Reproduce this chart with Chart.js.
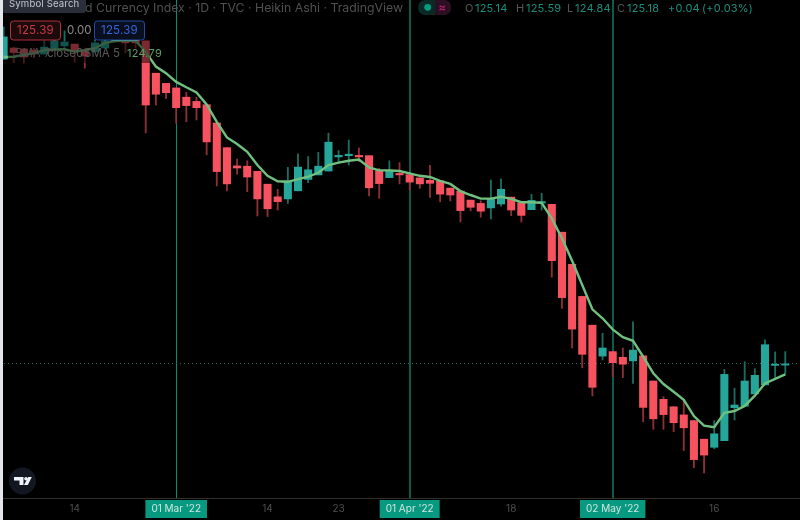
<!DOCTYPE html>
<html lang="en">
<head>
  <meta charset="UTF-8">
  <title>Currency Index Heikin Ashi</title>
  <script src="https://cdn.jsdelivr.net/npm/chart.js"></script>
  <style>
    html, body { margin: 0; padding: 0; background: #000; overflow: hidden; }
    #wrap { position: relative; width: 800px; height: 520px; }
    #strip { position: absolute; left: 0; top: 0; width: 3px; height: 520px; background: #e4e6ec; }
  </style>
</head>
<body>
<div id="wrap">
  <canvas id="chart" width="800" height="520"></canvas>
  <div id="strip"></div>
</div>

<script>
  // Heikin Ashi candles, oldest first
  const opens = [135.34, 135.71, 135.68, 135.64, 135.51, 135.64, 135.78, 135.84, 135.64, 135.58,
    135.71, 135.93, 135.98, 135.98, 135.94, 134.87, 134.53, 134.38, 134.07, 133.93,
    133.82, 133.21, 132.39, 131.78, 131.77, 131.60, 131.17, 130.75, 130.68, 130.95,
    131.33, 131.48, 131.61, 132.08, 132.12, 132.13, 132.12, 131.62, 131.39, 131.53,
    131.49, 131.38, 131.30, 131.28, 131.04, 130.94, 130.64, 130.53, 130.38, 130.51,
    130.74, 130.55, 130.32, 130.54, 130.50, 129.57, 128.50, 127.43, 126.47, 125.44,
    125.59, 125.40, 125.28, 125.45, 124.61, 124.00, 123.75, 123.48, 123.29, 122.67,
    122.40, 122.62, 123.72, 123.77, 124.18, 124.48, 125.13, 125.14];
  const closes = [136.08, 135.56, 135.41, 135.51, 135.74, 135.94, 135.91, 135.58, 135.44, 135.88,
    135.94, 135.98, 135.88, 135.88, 133.81, 134.17, 134.22, 133.72, 133.79, 133.72,
    132.58, 131.59, 131.18, 131.71, 131.41, 130.68, 130.35, 130.59, 131.28, 131.74,
    131.65, 131.77, 132.57, 132.13, 132.17, 132.08, 131.05, 131.19, 131.62, 131.48,
    131.24, 131.18, 131.20, 130.84, 130.81, 130.29, 130.40, 130.27, 130.68, 131.00,
    130.31, 130.13, 130.63, 130.59, 128.62, 127.39, 126.34, 125.50, 124.40, 125.71,
    125.22, 125.17, 125.64, 123.73, 123.35, 123.49, 123.22, 123.05, 121.99, 122.14,
    122.85, 124.83, 123.81, 124.61, 124.80, 125.82, 125.17, 125.18];
  const highs = [136.41, 135.74, 135.68, 135.71, 135.94, 136.04, 136.28, 135.84, 135.71, 135.98,
    136.04, 135.98, 135.98, 135.98, 135.94, 134.87, 134.53, 134.38, 134.23, 134.07,
    133.82, 133.21, 132.39, 132.01, 131.95, 131.60, 131.17, 131.00, 131.73, 132.18,
    132.09, 132.23, 132.87, 132.29, 132.64, 132.38, 132.12, 131.70, 131.95, 131.89,
    131.49, 131.38, 131.80, 131.28, 131.04, 130.94, 130.64, 130.62, 131.31, 131.35,
    130.74, 130.55, 130.83, 130.87, 130.50, 129.57, 128.50, 127.43, 126.47, 126.20,
    125.59, 125.71, 126.58, 125.45, 124.61, 124.09, 123.75, 124.00, 123.29, 122.67,
    123.29, 125.00, 124.37, 125.25, 125.02, 125.98, 125.58, 125.59];
  const lows = [135.34, 135.22, 135.21, 135.38, 135.51, 135.64, 135.64, 135.24, 135.04, 135.58,
    135.71, 135.91, 135.54, 135.71, 132.88, 133.81, 134.02, 133.20, 133.25, 133.31,
    132.15, 131.11, 130.95, 131.50, 130.92, 130.11, 130.09, 130.31, 130.53, 130.95,
    131.22, 131.48, 131.61, 131.92, 131.81, 131.92, 130.78, 130.70, 131.39, 131.18,
    130.98, 131.03, 130.73, 130.58, 130.61, 129.91, 130.28, 130.07, 130.01, 130.44,
    130.12, 129.91, 130.32, 130.31, 128.07, 127.03, 125.71, 125.05, 124.11, 125.31,
    124.75, 124.72, 124.53, 123.25, 123.00, 123.00, 122.92, 122.29, 121.72, 121.55,
    122.35, 122.62, 123.31, 123.77, 124.18, 124.48, 124.73, 124.84];
  const sma = [135.41, 135.42, 135.48, 135.54, 135.64, 135.66, 135.67, 135.59, 135.64, 135.71,
    135.88, 135.94, 135.95, 135.95, 135.58, 135.09, 134.87, 134.58, 134.40, 134.23,
    133.83, 133.25, 132.73, 132.51, 132.25, 131.81, 131.45, 131.27, 131.25, 131.34,
    131.42, 131.55, 131.81, 131.89, 131.95, 131.99, 131.73, 131.63, 131.63, 131.61,
    131.53, 131.45, 131.41, 131.28, 131.18, 130.94, 130.81, 130.69, 130.69, 130.75,
    130.68, 130.57, 130.57, 130.55, 130.03, 129.37, 128.62, 127.81, 127.00, 126.70,
    126.33, 126.07, 125.95, 125.42, 124.87, 124.51, 124.25, 123.98, 123.44, 123.12,
    123.07, 123.55, 123.61, 123.78, 124.12, 124.53, 124.68, 124.83];

  const tickIndices = [7, 17, 26, 33, 40, 50, 60, 70];
  const tickLabels = ['14', "01 Mar '22", '14', '23', "01 Apr '22", '18', "02 May '22", '16'];
  const lastPriceLine = [125.19];

  const UP = '#26a69a', DOWN = '#f7525f';
  const UP_WICK = '#1a6d60', DOWN_WICK = '#8c2f36';
  const isMonth = i => tickLabels[i].length > 2;

  const xs = opens.map((_, i) => i);
  const bodies = xs.map(i => ({ x: i, y: [opens[i], closes[i]] }));
  const wicks = xs.map(i => ({ x: i, y: [lows[i], highs[i]] }));
  const smaPts = xs.map(i => ({ x: i, y: sma[i] }));

  const overlay = {
    id: 'overlay',
    afterDraw(chart) {
      const ctx = chart.ctx;
      const txt = (s, x, y, color, font, spacing) => {
        ctx.font = font;
        ctx.fillStyle = color;
        ctx.letterSpacing = spacing || '0px';
        ctx.textAlign = 'left';
        ctx.textBaseline = 'middle';
        ctx.fillText(s, x, y);
      };
      const box = (x, y, w, h, r, fill, stroke) => {
        ctx.beginPath();
        ctx.roundRect(x, y, w, h, r);
        ctx.fillStyle = fill;
        ctx.fill();
        if (stroke) {
          ctx.strokeStyle = stroke;
          ctx.lineWidth = 1;
          ctx.stroke();
        }
      };
      ctx.save();

      // study legend backdrop dims the candles behind it
      ctx.fillStyle = 'rgba(0,0,0,0.5)';
      ctx.fillRect(8, 41, 142, 22);
      const lf = '11.5px Inter', lc = '#5a5a5a';
      txt('SMA 7', 15, 54, '#4a4a4a', lf);
      txt('close', 47, 54, lc, lf);
      txt('0', 76, 54, lc, lf);
      txt('SMA 5', 84, 54, lc, lf);
      txt('124.79', 127, 54, '#5f9f69', '11px Inter', '0.2px');

      // header
      txt('d Currency Index · 1D · TVC · Heikin Ashi · TradingView', 85, 8, '#505050', '12.3px Inter');
      const grey = '#555555', val = '#1b8d7c';
      const f = '11px Inter';
      txt('O', 465, 9, grey, f); txt('125.14', 475, 9, val, f, '0.2px');
      txt('H', 516, 9, grey, f); txt('125.59', 526, 9, val, f, '0.2px');
      txt('L', 567, 9, grey, f); txt('124.84', 575, 9, val, f, '0.2px');
      txt('C', 617, 9, grey, f); txt('125.18', 627, 9, val, f, '0.2px');
      txt('+0.04', 668, 9, val, f, '0.2px');
      txt('(+0.03%)', 702, 9, val, f, '0.2px');

      // status pill
      box(418, 0, 33, 15, 7, '#0b2a26');
      ctx.beginPath();
      ctx.roundRect(435, 0, 16, 15, [0, 7, 7, 0]);
      ctx.fillStyle = '#2c0f22';
      ctx.fill();
      ctx.beginPath();
      ctx.arc(427.7, 7.3, 3.4, 0, Math.PI * 2);
      ctx.fillStyle = '#089981';
      ctx.fill();
      txt('≈', 438.5, 7.5, '#b0206a', 'bold 11px Inter');

      // price badges
      box(10.5, 21, 50, 19, 3, '#1c0a0c', '#b0303c');
      txt('125.39', 17, 31, '#c83a46', '11.5px Inter', '0.2px');
      txt('0.00', 67, 31, '#8b8b8b', '11.5px Inter');
      box(94.5, 21, 50, 19, 3, '#0a0f20', '#254a9e');
      txt('125.39', 101, 31, '#3565d6', '11.5px Inter', '0.2px');

      // Symbol Search tooltip
      box(2, -4, 84, 17, 3, '#2a2e39');
      txt('Symbol Search', 9, 4, '#c4c7cf', '9.6px Inter', '0.15px');

      // TradingView mark
      ctx.beginPath();
      ctx.arc(22.5, 481, 13.5, 0, Math.PI * 2);
      ctx.fillStyle = '#131722';
      ctx.fill();
      ctx.fillStyle = '#f0f3fa';
      ctx.beginPath();
      ctx.moveTo(14, 477); ctx.lineTo(23.5, 477); ctx.lineTo(23.5, 485); ctx.lineTo(19.5, 485);
      ctx.lineTo(19.5, 480.5); ctx.lineTo(14, 480.5); ctx.closePath();
      ctx.fill();
      ctx.beginPath();
      ctx.arc(26, 478.8, 1.8, 0, Math.PI * 2);
      ctx.fill();
      ctx.beginPath();
      ctx.moveTo(28.2, 477); ctx.lineTo(31.8, 477); ctx.lineTo(27.8, 485); ctx.lineTo(24, 485);
      ctx.closePath();
      ctx.fill();

      ctx.restore();
    }
  };

  new Chart(document.getElementById('chart').getContext('2d'), {
    data: {
      datasets: [
        {
          type: 'line',
          data: smaPts,
          borderColor: '#70c080',
          borderWidth: 2.4,
          pointRadius: 0,
          tension: 0,
          order: 0
        },
        {
          type: 'bar',
          data: bodies,
          backgroundColor: ctx => closes[ctx.dataIndex] >= opens[ctx.dataIndex] ? UP : DOWN,
          barThickness: 7.4,
          borderWidth: 0,
          grouped: false,
          order: 1
        },
        {
          type: 'bar',
          data: wicks,
          backgroundColor: ctx => closes[ctx.dataIndex] >= opens[ctx.dataIndex] ? UP_WICK : DOWN_WICK,
          barThickness: 1.2,
          borderWidth: 0,
          grouped: false,
          order: 2
        }
      ]
    },
    options: {
      responsive: false,
      animation: false,
      layout: { padding: 0 },
      plugins: { legend: { display: false }, tooltip: { enabled: false } },
      scales: {
        x: {
          type: 'linear',
          offset: false,
          min: -0.355,
          max: 78.45,
          afterFit: s => { s.height = 22; },
          afterBuildTicks: s => { s.ticks = tickIndices.map(value => ({ value })); },
          grid: {
            offset: false,
            drawTicks: false,
            color: ctx => !isMonth(ctx.index) ? 'rgba(0,0,0,0)' : (ctx.index === 1 ? '#0a8a78' : '#0a5a4e'),
            lineWidth: ctx => ctx.index === 1 ? 1 : 2
          },
          border: { color: '#2f2f2f', width: 1 },
          ticks: {
            autoSkip: false,
            maxRotation: 0,
            padding: 5,
            font: { family: 'Inter', size: 10 },
            callback: (v, i) => tickLabels[i],
            color: ctx => isMonth(ctx.index) ? '#cfe6e1' : '#4f4f4f',
            showLabelBackdrop: ctx => isMonth(ctx.index),
            backdropColor: '#089981',
            backdropPadding: { left: 6, right: 6, top: 3, bottom: 3 }
          }
        },
        y: {
          min: 120.71,
          max: 137.31,
          afterFit: s => { s.width = 0; },
          afterBuildTicks: s => { s.ticks = lastPriceLine.map(value => ({ value })); },
          grid: {
            drawTicks: false,
            color: '#1a6b5e'
          },
          border: { display: false, dash: [1, 3] },
          ticks: { display: false }
        }
      }
    },
    plugins: [overlay]
  });
</script>
</body>
</html>
